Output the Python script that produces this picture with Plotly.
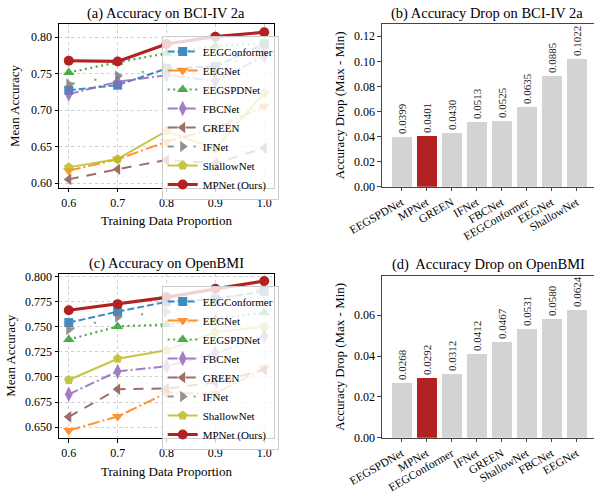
import plotly.graph_objects as go

# ---------------- data ----------------
proportions = [0.6, 0.7, 0.8, 0.9, 1.0]
models = ["EEGConformer", "EEGNet", "EEGSPDNet", "FBCNet", "GREEN", "IFNet", "ShallowNet", "MPNet (Ours)"]

bci_acc = {
    "EEGConformer": [0.7274, 0.7343, 0.7570, 0.7600, 0.7909],
    "EEGNet":       [0.6170, 0.6325, 0.6568, 0.6750, 0.7055],
    "EEGSPDNet":    [0.7517, 0.7657, 0.7780, 0.7880, 0.7916],
    "FBCNet":       [0.7220, 0.7389, 0.7480, 0.7400, 0.7745],
    "GREEN":        [0.6050, 0.6190, 0.6316, 0.6270, 0.6480],
    "IFNet":        [0.7356, 0.7467, 0.7580, 0.7530, 0.7869],
    "ShallowNet":   [0.6215, 0.6330, 0.6714, 0.6467, 0.7237],
    "MPNet (Ours)": [0.7678, 0.7668, 0.7908, 0.8008, 0.8069],
}
openbmi_acc = {
    "EEGConformer": [0.7543, 0.7652, 0.7750, 0.7780, 0.7855],
    "EEGNet":       [0.6466, 0.6606, 0.6841, 0.6834, 0.7090],
    "EEGSPDNet":    [0.7373, 0.7505, 0.7525, 0.7580, 0.7641],
    "FBCNet":       [0.6827, 0.7056, 0.7107, 0.7236, 0.7407],
    "GREEN":        [0.6602, 0.6878, 0.6885, 0.6946, 0.7069],
    "IFNet":        [0.7475, 0.7600, 0.7650, 0.7750, 0.7887],
    "ShallowNet":   [0.6970, 0.7182, 0.7267, 0.7448, 0.7501],
    "MPNet (Ours)": [0.7666, 0.7727, 0.7795, 0.7880, 0.7958],
}

bci_drop_names = ["EEGSPDNet", "MPNet", "GREEN", "IFNet", "FBCNet", "EEGConformer", "EEGNet", "ShallowNet"]
bci_drop_vals = [0.0399, 0.0401, 0.0430, 0.0513, 0.0525, 0.0635, 0.0885, 0.1022]
obmi_drop_names = ["EEGSPDNet", "MPNet", "EEGConformer", "IFNet", "GREEN", "ShallowNet", "FBCNet", "EEGNet"]
obmi_drop_vals = [0.0268, 0.0292, 0.0312, 0.0412, 0.0467, 0.0531, 0.0580, 0.0624]

# ---------------- styles ----------------
styles = {
    "EEGConformer": dict(color="#1f77b4", symbol="square", dash="7px,3px", width=2, size=9),
    "EEGNet":       dict(color="#ff7f0e", symbol="triangle-down", dash="12px,3px,2px,3px", width=2, size=10),
    "EEGSPDNet":    dict(color="#2ca02c", symbol="triangle-up", dash="2px,3.5px", width=2.2, size=10),
    "FBCNet":       dict(color="#9467bd", symbol="diamond-tall", dash="10px,3px,2px,3px", width=2, size=11),
    "GREEN":        dict(color="#8c564b", symbol="triangle-left", dash="10px,8px", width=2, size=10),
    "IFNet":        dict(color="#7f7f7f", symbol="triangle-right", dash="6px,20px,2px,20px", width=2, size=10),
    "ShallowNet":   dict(color="#bcbd22", symbol="pentagon", dash="solid", width=2, size=10),
    "MPNet (Ours)": dict(color="#b22222", symbol="circle", dash="solid", width=3.2, size=10),
}

FONT = "Liberation Serif, Times New Roman, serif"
W, H = 594, 493

fig = go.Figure()

def add_lines(data, xa, ya, legend):
    for m in models:
        s = styles[m]
        op = 1.0 if m.startswith("MPNet") else 0.85
        fig.add_trace(go.Scatter(
            x=proportions, y=data[m], name=m, mode="lines+markers",
            xaxis=xa, yaxis=ya, legend=legend, opacity=op,
            line=dict(color=s["color"], width=s["width"], dash=s["dash"]),
            marker=dict(symbol=s["symbol"], size=s["size"], color=s["color"]),
            cliponaxis=False,
        ))

add_lines(bci_acc, "x", "y", "legend")
add_lines(openbmi_acc, "x3", "y3", "legend2")

def add_bars(names, vals, xa, ya):
    colors = ["#b22222" if n == "MPNet" else "#d3d3d3" for n in names]
    fig.add_trace(go.Bar(
        x=list(range(len(names))), y=vals, width=0.8, marker=dict(color=colors, line=dict(width=0)),
        text=[f"{v:.4f}" for v in vals], textposition="outside", textangle=-90,
        constraintext="none",
        textfont=dict(size=11, family=FONT, color="#222"),
        xaxis=xa, yaxis=ya, showlegend=False, cliponaxis=False,
    ))

add_bars(bci_drop_names, bci_drop_vals, "x2", "y2")
add_bars(obmi_drop_names, obmi_drop_vals, "x4", "y4")

def px_x(p):
    return p / W

def px_y(p):
    return 1 - p / H

line_axis = dict(showline=True, mirror=True, linecolor="black", linewidth=1,
                 ticks="outside", ticklen=3.5, tickcolor="black", automargin=False,
                 showgrid=True, gridcolor="#cfcfcf", griddash="dot", gridwidth=0.8,
                 zeroline=False, tickfont=dict(size=12, family=FONT, color="black"))
bar_y = dict(showline=True, linecolor="#444", linewidth=1.2, ticks="outside", ticklen=3.5,
             tickcolor="#444", showgrid=False, zeroline=False, automargin=False,
             tickfont=dict(size=12, family=FONT, color="black"))
bar_x = dict(showline=True, mirror=True, linecolor="#444", linewidth=1.2, ticks="outside", ticklen=3.5,
             tickcolor="#444", showgrid=False, zeroline=False, tickangle=-30, automargin=False,
             tickfont=dict(size=11.5, family=FONT, color="black"))

x_line_dom = [px_x(59), px_x(274)]
x_bar_dom = [px_x(382), 1.0]
TF = dict(size=13, family=FONT)

fig.update_layout(
    width=W, height=H, margin=dict(l=0, r=0, t=0, b=0, autoexpand=False),
    paper_bgcolor="white", plot_bgcolor="white",
    font=dict(family=FONT, color="black"),
    bargap=0,
    xaxis=dict(line_axis, domain=x_line_dom, range=[0.58, 1.02], tickvals=proportions,
               ticktext=[f"{p:.1f}" for p in proportions], anchor="y",
               title=dict(text="Training Data Proportion", font=TF, standoff=7)),
    yaxis=dict(line_axis, domain=[px_y(187.7), px_y(24.3)], range=[0.5936, 0.8178], anchor="x",
               tickvals=[0.60, 0.65, 0.70, 0.75, 0.80], ticktext=["0.60", "0.65", "0.70", "0.75", "0.80"],
               title=dict(text="Mean Accuracy", font=TF, standoff=8)),
    xaxis3=dict(line_axis, domain=x_line_dom, range=[0.58, 1.02], tickvals=proportions,
                ticktext=[f"{p:.1f}" for p in proportions], anchor="y3",
                title=dict(text="Training Data Proportion", font=TF, standoff=7)),
    yaxis3=dict(line_axis, domain=[px_y(438), px_y(273.5)], range=[0.6391, 0.8033], anchor="x3",
                tickvals=[0.650, 0.675, 0.700, 0.725, 0.750, 0.775, 0.800],
                ticktext=["0.650", "0.675", "0.700", "0.725", "0.750", "0.775", "0.800"],
                title=dict(text="Mean Accuracy", font=TF, standoff=6)),
    xaxis2=dict(bar_x, domain=x_bar_dom, range=[-0.79, 7.69], anchor="y2",
                tickvals=list(range(8)), ticktext=bci_drop_names),
    yaxis2=dict(bar_y, domain=[px_y(186.7), px_y(24)], range=[0, 0.1298], anchor="x2",
                tickvals=[0, 0.02, 0.04, 0.06, 0.08, 0.10, 0.12],
                ticktext=["0.00", "0.02", "0.04", "0.06", "0.08", "0.10", "0.12"],
                title=dict(text="Accuracy Drop (Max - Min)", font=TF, standoff=6)),
    xaxis4=dict(bar_x, domain=x_bar_dom, range=[-0.79, 7.69], anchor="y4",
                tickvals=list(range(8)), ticktext=obmi_drop_names),
    yaxis4=dict(bar_y, domain=[px_y(437.7), px_y(276)], range=[0, 0.0792], anchor="x4",
                tickvals=[0, 0.02, 0.04, 0.06], ticktext=["0.00", "0.02", "0.04", "0.06"],
                title=dict(text="Accuracy Drop (Max - Min)", font=TF, standoff=6)),
    legend=dict(x=px_x(161.7), y=px_y(36), xanchor="left", yanchor="top",
                bgcolor="rgba(255,255,255,0.8)", bordercolor="#cccccc", borderwidth=1,
                font=dict(size=11, family=FONT), itemwidth=30, tracegroupgap=0),
    legend2=dict(x=px_x(161.7), y=px_y(286), xanchor="left", yanchor="top",
                 bgcolor="rgba(255,255,255,0.8)", bordercolor="#cccccc", borderwidth=1,
                 font=dict(size=11, family=FONT), itemwidth=30, tracegroupgap=0),
)

titles = [
    ("(a) Accuracy on BCI-IV 2a", 166.5, 13),
    ("(b) Accuracy Drop on BCI-IV 2a", 487, 13),
    ("(c) Accuracy on OpenBMI", 166.5, 263),
    ("(d)  Accuracy Drop on OpenBMI", 488, 264),
]
for t, cx, cy in titles:
    fig.add_annotation(text=t, x=px_x(cx), y=px_y(cy), xref="paper", yref="paper",
                       showarrow=False, xanchor="center", yanchor="middle",
                       font=dict(size=14.5, family=FONT, color="black"))

fig.write_html("out.html", config={"displayModeBar": False},
               post_script="document.body.style.margin='0';")
